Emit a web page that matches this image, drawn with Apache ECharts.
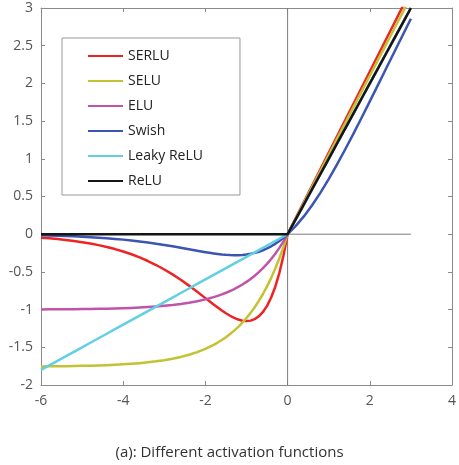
<!DOCTYPE html>
<html>
<head>
<meta charset="utf-8">
<script src="https://cdn.jsdelivr.net/npm/echarts@6/dist/echarts.min.js"></script>
<style>
html,body{margin:0;padding:0;background:#fff;}
#chart{width:459px;height:465px;}
</style>
</head>
<body>
<div id="chart"></div>
<script>
// ---- data ----
const seriesNames = ["SERLU", "SELU", "ELU", "Swish", "Leaky ReLU", "ReLU"];
const xs = [-6.0,-5.8,-5.6,-5.4,-5.2,-5.0,-4.8,-4.6,-4.4,-4.2,-4.0,-3.8,-3.6,-3.4,-3.2,-3.0,-2.8,-2.6,-2.4,-2.2,
            -2.0,-1.9,-1.8,-1.7,-1.6,-1.5,-1.4,-1.3,-1.2,-1.1,-1.0,-0.9,-0.8,-0.7,-0.6,-0.5,-0.4,-0.3,-0.2,-0.1,0.0,
            0.2,0.4,0.6,0.8,1.0,1.2,1.4,1.6,1.8,2.0,2.2,2.4,2.6,2.8,3.0];
const serluY = [-0.0466,-0.0550,-0.0649,-0.0764,-0.0899,-0.1055,-0.1238,-0.1448,-0.1692,-0.1973,-0.2295,-0.2663,-0.3081,-0.3555,-0.4086,-0.4679,-0.5334,-0.6049,-0.6820,-0.7636,
                -0.8479,-0.8902,-0.9321,-0.9729,-1.0119,-1.0485,-1.0815,-1.1099,-1.1322,-1.1470,-1.1524,-1.1463,-1.1261,-1.0889,-1.0315,-0.9500,-0.8399,-0.6962,-0.5130,-0.2835,0,
                0.2157,0.4314,0.6472,0.8629,1.0786,1.2943,1.5101,1.7258,1.9415,2.1572,2.3730,2.5887,2.8044,3.0201,3.2359];
const seluY = [-1.7537,-1.7528,-1.7516,-1.7502,-1.7484,-1.7462,-1.7436,-1.7404,-1.7365,-1.7317,-1.7259,-1.7188,-1.7101,-1.6994,-1.6864,-1.6706,-1.6512,-1.6275,-1.5986,-1.5633,
               -1.5202,-1.4951,-1.4675,-1.4369,-1.4031,-1.3658,-1.3246,-1.2790,-1.2286,-1.1729,-1.1113,-1.0433,-0.9681,-0.8851,-0.7932,-0.6918,-0.5796,-0.4557,-0.3187,-0.1673,0,
               0.2101,0.4203,0.6304,0.8406,1.0507,1.2608,1.4710,1.6811,1.8913,2.1014,2.3115,2.5217,2.7318,2.9420,3.1521];
const eluY = [-0.9975,-0.9970,-0.9963,-0.9955,-0.9945,-0.9933,-0.9918,-0.9899,-0.9877,-0.9850,-0.9817,-0.9776,-0.9727,-0.9666,-0.9592,-0.9502,-0.9392,-0.9257,-0.9093,-0.8892,
              -0.8647,-0.8504,-0.8347,-0.8173,-0.7981,-0.7769,-0.7534,-0.7275,-0.6988,-0.6671,-0.6321,-0.5934,-0.5507,-0.5034,-0.4512,-0.3935,-0.3297,-0.2592,-0.1813,-0.0952,0,
              0.2,0.4,0.6,0.8,1.0,1.2,1.4,1.6,1.8,2.0,2.2,2.4,2.6,2.8,3.0];
const swishY = [-0.0148,-0.0175,-0.0206,-0.0243,-0.0285,-0.0335,-0.0392,-0.0458,-0.0534,-0.0621,-0.0719,-0.0831,-0.0957,-0.1098,-0.1253,-0.1423,-0.1605,-0.1798,-0.1996,-0.2195,
                -0.2384,-0.2472,-0.2553,-0.2626,-0.2688,-0.2736,-0.2769,-0.2784,-0.2778,-0.2747,-0.2689,-0.2602,-0.2480,-0.2323,-0.2126,-0.1888,-0.1605,-0.1277,-0.0900,-0.0475,0,
                0.1100,0.2395,0.3874,0.5520,0.7311,0.9222,1.1231,1.3312,1.5447,1.7616,1.9806,2.2004,2.4202,2.6395,2.8577];
const leakyY = [-1.80,-1.74,-1.68,-1.62,-1.56,-1.50,-1.44,-1.38,-1.32,-1.26,-1.20,-1.14,-1.08,-1.02,-0.96,-0.90,-0.84,-0.78,-0.72,-0.66,
                -0.60,-0.57,-0.54,-0.51,-0.48,-0.45,-0.42,-0.39,-0.36,-0.33,-0.30,-0.27,-0.24,-0.21,-0.18,-0.15,-0.12,-0.09,-0.06,-0.03,0,
                0.2,0.4,0.6,0.8,1.0,1.2,1.4,1.6,1.8,2.0,2.2,2.4,2.6,2.8,3.0];
const reluY = [0,0,0,0,0,0,0,0,0,0,0,0,0,0,0,0,0,0,0,0,
               0,0,0,0,0,0,0,0,0,0,0,0,0,0,0,0,0,0,0,0,0,
               0.2,0.4,0.6,0.8,1.0,1.2,1.4,1.6,1.8,2.0,2.2,2.4,2.6,2.8,3.0];
const vLineX = [0, 0];
const vLineY = [-2, 3];
const hLineX = [-6, 3];
const hLineY = [0, 0];
const titleText = "(a): Different activation functions";

// ---- build ----
const allY = [serluY, seluY, eluY, swishY, leakyY, reluY];
const colors = ["#ee2424", "#c2c232", "#c054a8", "#3b55b0", "#62cfe2", "#151515"];
const pair = (xa, ya) => xa.map((x, i) => [x, ya[i]]);
const FONT = "'Open Sans', 'Noto Sans', sans-serif";

const chart = echarts.init(document.getElementById('chart'), null, {renderer: 'canvas'});

const refSeries = [
  {name: 'zeroV', type: 'line', data: pair(vLineX, vLineY), symbol: 'none', silent: true, z: 1,
   lineStyle: {color: '#7a7a7a', width: 1}},
  {name: 'zeroH', type: 'line', data: pair(hLineX, hLineY), symbol: 'none', silent: true, z: 1,
   lineStyle: {color: '#7a7a7a', width: 1}}
];

const curveSeries = seriesNames.map((n, i) => ({
  name: n, type: 'line', data: pair(xs, allY[i]), symbol: 'none', showSymbol: false,
  smooth: false, z: 2 + i, clip: true,
  lineStyle: {color: colors[i], width: 2.5, join: 'round'}, itemStyle: {color: colors[i]}
}));

const axisCommon = {
  axisLine: {show: true, onZero: false, lineStyle: {color: '#8a8a8a', width: 1}},
  axisTick: {show: true, inside: true, length: 4, lineStyle: {color: '#8a8a8a'}},
  splitLine: {show: false}
};

chart.setOption({
  animation: false,
  backgroundColor: '#fff',
  title: {
    text: titleText, left: 'center', top: 440,
    textStyle: {fontFamily: FONT, fontSize: 15, fontWeight: 'normal', color: '#333'}
  },
  legend: {
    data: seriesNames, orient: 'vertical', left: 62, top: 38,
    padding: [11, 37, 7, 25], itemGap: 11, itemWidth: 35, itemHeight: 14,
    backgroundColor: '#fff', borderColor: '#999', borderWidth: 1,
    itemStyle: {opacity: 0},
    textStyle: {fontFamily: FONT, fontSize: 14, color: '#222'},
    selectedMode: false
  },
  grid: {left: 41, right: 6, top: 8, bottom: 80, containLabel: false},
  xAxis: [
    Object.assign({type: 'value', position: 'bottom', min: -6, max: 4, interval: 2,
      axisLabel: {fontFamily: FONT, fontSize: 14, color: '#555', margin: 9}}, axisCommon),
    Object.assign({type: 'value', position: 'top', min: -6, max: 4, interval: 2,
      axisLabel: {show: false}}, axisCommon)
  ],
  yAxis: [
    Object.assign({type: 'value', position: 'left', min: -2, max: 3, interval: 0.5,
      axisLabel: {fontFamily: FONT, fontSize: 14, color: '#555', margin: 8}}, axisCommon),
    Object.assign({type: 'value', position: 'right', min: -2, max: 3, interval: 0.5,
      axisLabel: {show: false}}, axisCommon)
  ],
  series: refSeries.concat(curveSeries)
});
</script>
</body>
</html>
